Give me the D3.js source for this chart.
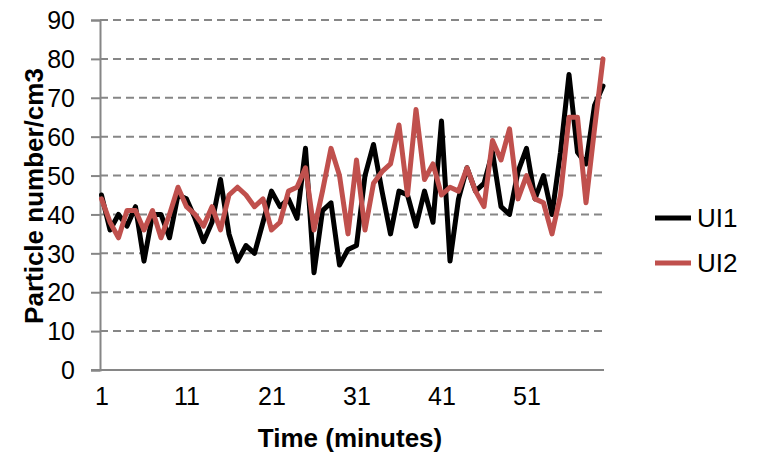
<!DOCTYPE html>
<html>
<head>
<meta charset="utf-8">
<script src="https://cdn.jsdelivr.net/npm/d3@7"></script>
<style>
  body { margin: 0; background: #fff; }
  #chart { width: 767px; height: 457px; }
  text { font-family: Arial, "Liberation Sans", sans-serif; }
</style>
</head>
<body>
<div id="chart"></div>
<script>
// minutes 1..60
var minutes = d3.range(1, 61);

var ui1 = [45,36,40,37,42,28,40,40,34,45, 44,39,33,38,49,35,28,32,30,38,
           46,42,44,39,57,25,41,43,27,31, 32,50,58,46,35,46,45,37,46,38,
           64,28,44,52,46,48,56,42,40,51, 57,44,50,40,56,76,56,53,68,73];

var ui2 = [44,38,34,41,41,36,41,34,40,47, 42,40,37,42,36,45,47,45,42,44,
           36,38,46,47,52,36,46,57,50,35, 54,36,48,51,53,63,45,67,49,53,
           45,47,46,52,46,42,59,54,62,44, 50,44,43,35,45,65,65,43,62,80];

var seriesNames = ['UI1', 'UI2'];
var seriesColors = ['#000000', '#C0504D'];
var xTicks = [1, 11, 21, 31, 41, 51];
var yTicks = [0, 10, 20, 30, 40, 50, 60, 70, 80, 90];

var width = 767, height = 457;
var plot = {left: 100, right: 604, top: 20, bottom: 370};
var axisGray = '#868686';

var svg = d3.select('#chart')
  .append('svg')
  .attr('width', width)
  .attr('height', height);

var x = d3.scaleLinear()
  .domain([1, 60])
  .range([plot.left + 1.5, plot.right - 1]);

var y = d3.scaleLinear()
  .domain([0, 90])
  .range([plot.bottom, plot.top]);

// dashed gridlines
svg.append('g')
  .attr('class', 'grid')
  .selectAll('line')
  .data(yTicks.filter(function(d) { return d > 0; }))
  .enter().append('line')
    .attr('x1', plot.left)
    .attr('x2', plot.right)
    .attr('y1', function(d) { return y(d); })
    .attr('y2', function(d) { return y(d); })
    .style('stroke', axisGray)
    .style('stroke-width', 2)
    .style('stroke-dasharray', '8,5');

// y axis
var yAxis = svg.append('g')
  .attr('transform', 'translate(' + plot.left + ',0)')
  .call(d3.axisLeft(y).tickValues(yTicks).tickSize(9).tickPadding(16));
yAxis.select('.domain').style('stroke', axisGray).style('stroke-width', 2);
yAxis.selectAll('.tick line').style('stroke', axisGray).style('stroke-width', 2);
yAxis.selectAll('.tick text')
  .style('font-size', '25px')
  .style('fill', '#000')
  .attr('dy', '0.35em');

// x axis
var xAxis = svg.append('g')
  .attr('transform', 'translate(0,' + plot.bottom + ')')
  .call(d3.axisBottom(x).tickValues(xTicks).tickSize(0).tickPadding(17).tickFormat(d3.format('d')));
xAxis.select('.domain')
  .attr('d', 'M' + (plot.left - 9) + ',0H' + plot.right)
  .style('stroke', axisGray)
  .style('stroke-width', 2);
xAxis.selectAll('.tick text')
  .style('font-size', '25px')
  .style('fill', '#000');

// axis titles
svg.append('text')
  .attr('x', 350)
  .attr('y', 447)
  .attr('text-anchor', 'middle')
  .style('font-size', '26px')
  .style('font-weight', 'bold')
  .text('Time (minutes)');

svg.append('text')
  .attr('transform', 'translate(43,196) rotate(-90)')
  .attr('text-anchor', 'middle')
  .style('font-size', '26px')
  .style('font-weight', 'bold')
  .text('Particle number/cm3');

// lines
var line = d3.line()
  .x(function(d, i) { return x(minutes[i]); })
  .y(function(d) { return y(d); });

var seriesData = [ui1, ui2];

svg.append('g')
  .attr('class', 'lines')
  .selectAll('path')
  .data(seriesData)
  .enter().append('path')
    .attr('d', line)
    .style('fill', 'none')
    .style('stroke', function(d, i) { return seriesColors[i]; })
    .style('stroke-width', 5)
    .style('stroke-linejoin', 'round')
    .style('stroke-linecap', 'round');

// legend
var legend = svg.append('g')
  .attr('class', 'legend')
  .selectAll('g')
  .data(seriesNames)
  .enter().append('g')
    .attr('transform', function(d, i) { return 'translate(655,' + (218 + i * 45) + ')'; });

legend.append('line')
  .attr('x1', 0)
  .attr('x2', 36)
  .style('stroke', function(d, i) { return seriesColors[i]; })
  .style('stroke-width', 5);

legend.append('text')
  .attr('x', 42)
  .attr('dy', '0.35em')
  .style('font-size', '26px')
  .text(function(d) { return d; });
</script>
</body>
</html>
